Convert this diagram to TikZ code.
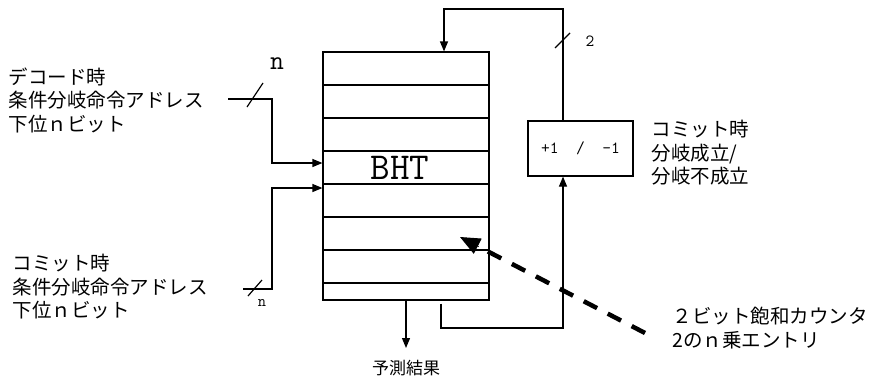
\documentclass[tikz,border=0pt]{standalone}
\usepackage{fontspec}
\newfontfamily\jp{Noto Sans CJK JP}
\usepackage{tikz}
\usetikzlibrary{arrows.meta, positioning, calc}

\begin{document}
\begin{tikzpicture}[
        x=1pt, y=-1pt, line width=1.2pt,
        m/.style={draw, inner sep=0pt},
        rel/.style={-{Triangle[length=10pt,width=8pt]}},
        lbl/.style={font=\jp\fontsize{19.5}{23.5}\selectfont, align=left, inner sep=0pt},
        tt/.style={font=\ttfamily\fontsize{#1}{#1}\selectfont, inner sep=0pt}
    ]
        \useasboundingbox (0,0) rectangle (870,383);
        % BHT table
        \node[m, minimum width=166pt, minimum height=248pt] (bht) at (406,176) {};
        \foreach \ry in {85,118,151,184,217,250,283}
            \draw (bht.west |- 0,\ry) -- (bht.east |- 0,\ry);
        \node[tt=38] (bhtname) at (400,168) {BHT};
        % counter update
        \node[m, minimum width=105pt, minimum height=55pt, tt=17] (cnt) at (580.5,148.5) {+1\ \ /\ \ -1};
        \node[lbl, anchor=west] (cmtlbl) at (651,153) {コミット時\\分岐成立/\\分岐不成立};
        \coordinate (fb) at (563,9);
        \coordinate (fbl) at (444,9);
        \draw[rel] (cnt.north -| fb) -- (fb) -- (fbl) -- (fbl |- bht.north);
        \draw (555,48) -- (570,33);
        \node[tt=17] (w2) at (590,41) {2};
        \coordinate (lp) at (441,328);
        \draw[rel] ([yshift=-3pt]bht.south -| lp) -- (lp) -| (cnt.south -| fb);
        % prediction out
        \coordinate (out) at (406,348);
        \draw[rel] (bht.south -| out) -- (out);
        \node[lbl, font=\jp\fontsize{17}{20}\selectfont] (pred) at (406,368) {予測結果};
        % decode input
        \node[lbl, anchor=west] (declbl) at (8,100) {デコード時\\条件分岐命令アドレス\\下位ｎビット};
        \coordinate (din) at (228,99);
        \coordinate (dk) at (272,163);
        \draw[rel] (din) -| (dk) -- (dk -| bht.west);
        \draw (247,107) -- (263,83);
        \node[tt=27] (wn1) at (277,64) {n};
        % commit input
        \node[lbl, anchor=west] (cmlbl) at (12,287) {コミット時\\条件分岐命令アドレス\\下位ｎビット};
        \coordinate (cin) at (243,289);
        \coordinate (ck) at (272,188);
        \draw[rel] (cin) -| (ck) -- (ck -| bht.west);
        \draw (248,296) -- (262,280);
        \node[tt=16] (wn2) at (262,303) {n};
        % counters
        \node[lbl, anchor=west] (satlbl) at (672,328) {２ビット飽和カウンタ\\2のｎ乗エントリ};
        \coordinate (ctr) at (645,333);
        \coordinate (ctip) at (460,237);
        \draw[line width=4.5pt, dash pattern=on 15pt off 12pt] (ctr) -- ($(ctip)!19pt!(ctr)$);
        \draw[line width=1pt, -{Triangle[length=20pt,width=17pt]}] ($(ctip)!21pt!(ctr)$) -- (ctip);
    \end{tikzpicture}
\end{document}
